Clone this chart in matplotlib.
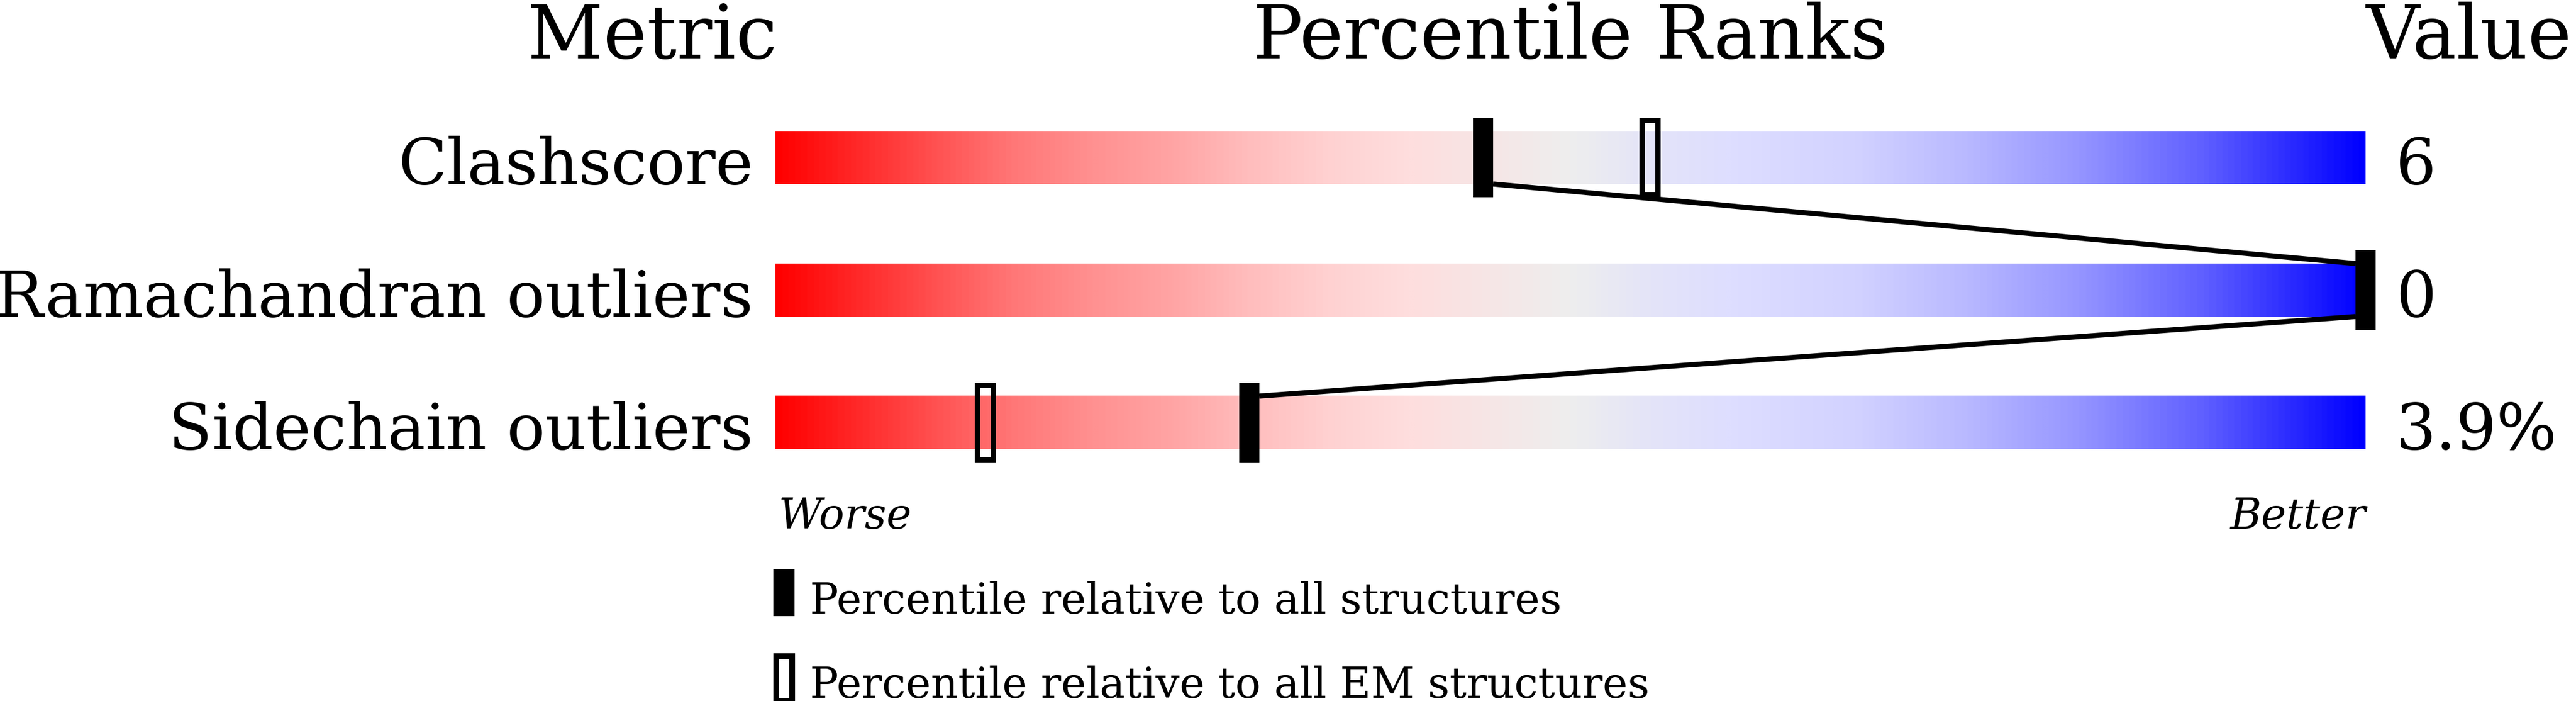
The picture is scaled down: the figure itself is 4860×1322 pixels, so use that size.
import numpy as np
import matplotlib
matplotlib.use("Agg")
import matplotlib.pyplot as plt
from matplotlib.colors import LinearSegmentedColormap
from matplotlib.patches import Rectangle

# ---- data ----
metrics = ["Clashscore", "Ramachandran outliers", "Sidechain outliers"]
values = ["6", "0", "3.9%"]
pct_all = [44.5, 100.0, 29.8]          # percentile relative to all structures
pct_em = [55.0, None, 13.2]            # percentile relative to all EM structures
legend_labels = ["Percentile relative to all structures",
                 "Percentile relative to all EM structures"]

# ---- figure ----
W, H, DPI = 4860, 1322, 300
fig = plt.figure(figsize=(W / DPI, H / DPI), dpi=DPI)
ax = fig.add_axes([0, 0, 1, 1])
ax.axis("off")

stops = [(0.00, (255, 0, 0)), (0.11, (255, 90, 90)), (0.15, (255, 120, 120)),
         (0.20, (255, 145, 145)), (0.25, (255, 165, 165)), (0.30, (255, 190, 190)),
         (0.35, (255, 210, 210)), (0.40, (254, 222, 222)), (0.45, (246, 230, 230)),
         (0.50, (238, 238, 238)), (0.55, (228, 228, 248)), (0.60, (222, 222, 255)),
         (0.68, (210, 210, 255)), (0.75, (185, 185, 255)), (0.82, (150, 150, 255)),
         (0.90, (95, 95, 255)), (1.00, (0, 0, 255))]
cmap = LinearSegmentedColormap.from_list(
    "slider", [(p, tuple(c / 255 for c in rgb)) for p, rgb in stops])

bar_h = 0.4
mk_h = 0.6
mk_w = 1.27
grad = np.linspace(0, 1, 1200)[None, :]

serif = "DejaVu Serif"
lbl_fs = 28.8
title_fs = 33.5
small_fs = 19.2

for i, (m, v) in enumerate(zip(metrics, values)):
    ax.imshow(grad, cmap=cmap, extent=(0, 100, i + bar_h / 2, i - bar_h / 2),
              aspect="auto", interpolation="bilinear", zorder=1)
    ax.text(-1.4, i + bar_h / 2, m, ha="right", va="baseline",
            fontsize=lbl_fs, family=serif)
    ax.text(101.9, i + bar_h / 2, v, ha="left", va="baseline",
            fontsize=lbl_fs, family=serif)
    # solid marker
    ax.add_patch(Rectangle((pct_all[i] - mk_w / 2, i - mk_h / 2), mk_w, mk_h,
                           facecolor="black", edgecolor="none", zorder=4))
    # hollow marker
    if pct_em[i] is not None:
        ax.add_patch(Rectangle((pct_em[i] - mk_w * 0.4, i - mk_h / 2 + 0.02),
                               mk_w * 0.8, mk_h - 0.04, facecolor="none",
                               edgecolor="black", linewidth=2.4, zorder=4))

# connecting line between consecutive solid markers
for i in range(len(metrics) - 1):
    a, b = pct_all[i], pct_all[i + 1]
    xa = a + mk_w / 2 if a < b else a - mk_w / 2
    xb = b - mk_w / 2 if a < b else b + mk_w / 2
    ax.plot([xa, xb], [i + bar_h / 2, i + 1 - bar_h / 2], color="black",
            linewidth=2.3, solid_capstyle="butt", zorder=3)

# headers
ax.text(0.1, -0.748, "Metric", ha="right", va="baseline", fontsize=title_fs, family=serif)
ax.text(50, -0.748, "Percentile Ranks", ha="center", va="baseline", fontsize=title_fs, family=serif)
ax.text(100, -0.748, "Value", ha="left", va="baseline", fontsize=title_fs, family=serif)

ax.text(0.2, 2.8, "Worse", ha="left", va="baseline", fontsize=small_fs,
        family=serif, style="italic")
ax.text(100, 2.8, "Better", ha="right", va="baseline", fontsize=small_fs,
        family=serif, style="italic")

# legend
ax.add_patch(Rectangle((-0.13, 3.104), 1.33, 0.356, facecolor="black",
                       edgecolor="none", zorder=4))
ax.add_patch(Rectangle((0.05, 3.76), 0.97, 0.34, facecolor="none",
                       edgecolor="black", linewidth=2.6, zorder=4))
ax.text(2.17, 3.44, legend_labels[0], ha="left", va="baseline",
        fontsize=small_fs, family=serif)
ax.text(2.17, 4.076, legend_labels[1], ha="left", va="baseline",
        fontsize=small_fs, family=serif)

ax.set_xlim(-1463 / 30, (W - 1463) / 30)
ax.set_ylim((H - 297) / 250, -297 / 250)

fig.savefig("out.png", dpi=DPI, facecolor="white")
